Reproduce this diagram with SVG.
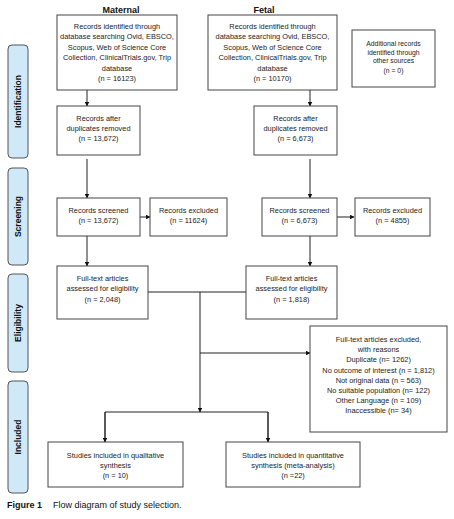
<svg xmlns="http://www.w3.org/2000/svg" width="454" height="519" viewBox="0 0 454 519">
<defs>
<marker id="ah" viewBox="0 0 10 10" refX="9" refY="5" markerWidth="5" markerHeight="5" orient="auto" markerUnits="userSpaceOnUse">
<path d="M0,0 L10,5 L0,10 z" fill="#111"/>
</marker>
<style>
.box{fill:#fff;stroke:#444;stroke-width:1}
.side{fill:#cfe9f8;stroke:#555;stroke-width:1}
.t{font-family:"Liberation Sans",Arial,sans-serif;font-size:7.4px;fill:#222;text-anchor:middle}
.st{font-family:"Liberation Sans",Arial,sans-serif;font-size:8.5px;font-weight:bold;fill:#111;text-anchor:middle}
.hd{font-family:"Liberation Sans",Arial,sans-serif;font-size:9px;font-weight:bold;fill:#111;text-anchor:middle}
.cap{font-family:"Liberation Sans Narrow","Liberation Sans",Arial,sans-serif;font-size:9px;fill:#111}
.ln{stroke:#222;stroke-width:1;fill:none}
.ar{stroke:#222;stroke-width:1;fill:none;marker-end:url(#ah)}
</style>
</defs>
<rect width="454" height="519" fill="#fff"/>

<g id="sidebar">
<rect class="side" x="8" y="45" width="20" height="113" rx="4"/>
<text class="st" transform="translate(21,101.5) rotate(-90)">Identification</text>
<rect class="side" x="8" y="168" width="20" height="97" rx="4"/>
<text class="st" transform="translate(21,216.5) rotate(-90)">Screening</text>
<rect class="side" x="8" y="274" width="20" height="98" rx="4"/>
<text class="st" transform="translate(21,323) rotate(-90)">Eligibility</text>
<rect class="side" x="8" y="381" width="20" height="112" rx="4"/>
<text class="st" transform="translate(21,437) rotate(-90)">Included</text>
</g>

<g id="headers">
<text class="hd" x="121" y="13">Maternal</text>
<text class="hd" x="264" y="13">Fetal</text>
</g>

<g id="connectors">
<line class="ar" x1="87" y1="90" x2="87" y2="106"/>
<line class="ar" x1="310" y1="90" x2="310" y2="106"/>
<line class="ar" x1="87" y1="159" x2="87" y2="198"/>
<line class="ar" x1="310" y1="159" x2="310" y2="198"/>
<line class="ar" x1="140" y1="217" x2="150" y2="217"/>
<line class="ar" x1="337" y1="217" x2="354" y2="217"/>
<line class="ar" x1="87" y1="236" x2="87" y2="266"/>
<line class="ar" x1="310" y1="236" x2="310" y2="266"/>
<line class="ln" x1="148" y1="292" x2="246" y2="292"/>
<line class="ar" x1="200" y1="292" x2="200" y2="412"/>
<line class="ar" x1="200" y1="353" x2="310" y2="353"/>
<polyline class="ln" points="105,442 105,412 268,412 268,442"/>
<line class="ar" x1="105" y1="412" x2="105" y2="442"/>
<line class="ar" x1="268" y1="412" x2="268" y2="442"/>
</g>

<g id="m-identified">
<rect class="box" x="57" y="15" width="120" height="75"/>
<text class="t" x="117" y="29">Records identified through</text>
<text class="t" x="117" y="39.4">database searching Ovid, EBSCO,</text>
<text class="t" x="117" y="49.8">Scopus, Web of Science Core</text>
<text class="t" x="117" y="60.2">Collection, ClinicalTrials.gov, Trip</text>
<text class="t" x="117" y="70.6">database</text>
<text class="t" x="117" y="81">(n = 16123)</text>
</g>

<g id="f-identified">
<rect class="box" x="208" y="15" width="129" height="75"/>
<text class="t" x="272.5" y="29">Records identified through</text>
<text class="t" x="272.5" y="39.4">database searching Ovid, EBSCO,</text>
<text class="t" x="272.5" y="49.8">Scopus, Web of Science Core</text>
<text class="t" x="272.5" y="60.2">Collection, ClinicalTrials.gov, Trip</text>
<text class="t" x="272.5" y="70.6">database</text>
<text class="t" x="272.5" y="81">(n = 10170)</text>
</g>

<g id="additional">
<rect class="box" x="352" y="30" width="83" height="57"/>
<text class="t" x="393.5" y="46" style="font-size:6.8px">Additional records</text>
<text class="t" x="393.5" y="54.5" style="font-size:6.8px">identified through</text>
<text class="t" x="393.5" y="63" style="font-size:6.8px">other sources</text>
<text class="t" x="393.5" y="73" style="font-size:6.8px">(n = 0)</text>
</g>

<g id="m-dedup">
<rect class="box" x="57" y="106" width="83" height="49"/>
<text class="t" x="98.5" y="121">Records after</text>
<text class="t" x="98.5" y="131">duplicates removed</text>
<text class="t" x="98.5" y="141">(n = 13,672)</text>
</g>

<g id="f-dedup">
<rect class="box" x="254" y="106" width="83" height="49"/>
<text class="t" x="295.5" y="121">Records after</text>
<text class="t" x="295.5" y="131">duplicates removed</text>
<text class="t" x="295.5" y="141">(n = 6,673)</text>
</g>

<g id="m-screened">
<rect class="box" x="57" y="198" width="83" height="38"/>
<text class="t" x="98.5" y="213">Records screened</text>
<text class="t" x="98.5" y="223">(n = 13,672)</text>
</g>

<g id="m-excluded">
<rect class="box" x="150" y="198" width="77" height="38"/>
<text class="t" x="188.5" y="213">Records excluded</text>
<text class="t" x="188.5" y="223">(n = 11624)</text>
</g>

<g id="f-screened">
<rect class="box" x="262" y="198" width="75" height="38"/>
<text class="t" x="299.5" y="213">Records screened</text>
<text class="t" x="299.5" y="223">(n = 6,673)</text>
</g>

<g id="f-excluded">
<rect class="box" x="355" y="198" width="75" height="38"/>
<text class="t" x="392.5" y="213">Records excluded</text>
<text class="t" x="392.5" y="223">(n = 4855)</text>
</g>

<g id="m-fulltext">
<rect class="box" x="57" y="266" width="91" height="53"/>
<text class="t" x="102.5" y="281">Full-text articles</text>
<text class="t" x="102.5" y="291">assessed for eligibility</text>
<text class="t" x="102.5" y="302">(n = 2,048)</text>
</g>

<g id="f-fulltext">
<rect class="box" x="246" y="266" width="91" height="53"/>
<text class="t" x="291.5" y="281">Full-text articles</text>
<text class="t" x="291.5" y="291">assessed for eligibility</text>
<text class="t" x="291.5" y="302">(n = 1,818)</text>
</g>

<g id="ft-excluded">
<rect class="box" x="310" y="326" width="137" height="106"/>
<text class="t" x="378.5" y="342">Full-text articles excluded,</text>
<text class="t" x="378.5" y="352.2">with reasons</text>
<text class="t" x="378.5" y="362.4">Duplicate (n= 1262)</text>
<text class="t" x="378.5" y="372.6">No outcome of interest (n = 1,812)</text>
<text class="t" x="378.5" y="382.8">Not original data (n = 563)</text>
<text class="t" x="378.5" y="393">No suitable population (n= 122)</text>
<text class="t" x="378.5" y="403.2">Other Language (n = 109)</text>
<text class="t" x="378.5" y="413.4">Inaccessible (n= 34)</text>
</g>

<g id="qualitative">
<rect class="box" x="48" y="442" width="135" height="45"/>
<text class="t" x="115.5" y="458">Studies included in qualitative</text>
<text class="t" x="115.5" y="468">synthesis</text>
<text class="t" x="115.5" y="478">(n = 10)</text>
</g>

<g id="quantitative">
<rect class="box" x="226" y="442" width="134" height="45"/>
<text class="t" x="293" y="458">Studies included in quantitative</text>
<text class="t" x="293" y="468">synthesis (meta-analysis)</text>
<text class="t" x="293" y="478">(n =22)</text>
</g>

<g id="caption">
<text class="cap" x="7" y="508" style="font-weight:bold">Figure 1</text>
<text class="cap" x="53" y="508">Flow diagram of study selection.</text>
</g>
</svg>
